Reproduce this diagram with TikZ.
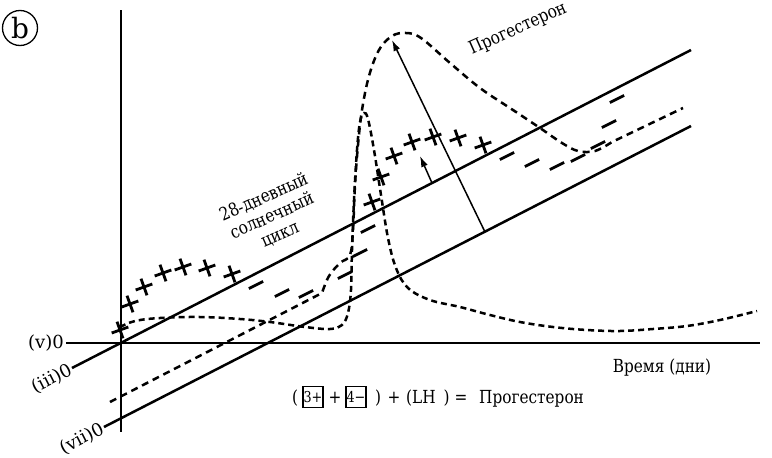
\documentclass[tikz,border=0pt]{standalone}
\usepackage{fontspec}
\setmainfont{DejaVu Serif}[FakeStretch=0.85]
\newfontfamily\axfont{DejaVu Serif}
\usetikzlibrary{arrows.meta,calc}
\begin{document}
\begin{tikzpicture}[x=1pt,y=-1pt,
  axisline/.style={line width=2.5pt},
  dashcurve/.style={line width=2.5pt, dash pattern=on 7pt off 5pt},
  lhcurve/.style={line width=2.5pt, dash pattern=on 6pt off 4pt},
  arrowline/.style={line width=1.5pt, -{Latex[length=11pt,width=7pt]}},
  signmark/.style={line width=2.8pt},
  lbl/.style={font=\fontsize{18}{20}\selectfont, inner sep=0pt},
  axlbl/.style={font=\axfont\fontsize{18}{20}\selectfont, inner sep=0pt},
  eqbox/.style={draw, line width=1.3pt, minimum width=20pt, minimum height=21pt, inner sep=0pt, font=\fontsize{15}{15}\selectfont}]
\useasboundingbox (0,0) rectangle (772,458);
% coordinates
\coordinate (vtop) at (121,10);
\coordinate (vbot) at (121,432);
\coordinate (hl) at (66,343);
\coordinate (hr) at (760,343);
\coordinate (iiiS) at (72,368);
\coordinate (iiiE) at (691,50);
\coordinate (viiS) at (104,427);
\coordinate (viiE) at (691,126);
\coordinate (bigS) at (485,232);
\coordinate (bigT) at (392,40);
\coordinate (smS) at (432,183);
\coordinate (smT) at (420,156);
% axes and lines
\draw[axisline] (vtop) -- (vbot);
\draw[axisline] (hl) -- (hr);
\draw[axisline] (iiiS) -- (iiiE);
\draw[axisline] (viiS) -- (viiE);
% progesterone curve with baseline
\draw[dashcurve] (110,402) -- plot[smooth,tension=0.6] coordinates {(322,293) (329,276) (340,263) (350,255) (353,230) (355,185) (358,145) (362,110) (369,76) (379,50) (392,36) (406,33) (421,38) (450,63) (480,88) (513,110) (540,128) (562,143) (578,151) (595,151) (612,142)} -- (683,108);
% LH curve
\draw[lhcurve] plot[smooth,tension=0.6] coordinates {(120,327) (135,321) (160,318) (200,317) (240,319) (270,322) (305,327) (330,329) (342,325) (348,313) (351,290) (352,250) (354,200) (357,150) (360,122) (364,113) (368,119) (374,150) (381,195) (388,238) (396,268) (408,288) (430,300) (460,307) (490,315) (520,322) (553,327) (587,330) (620,331) (653,329) (687,326) (720,320) (757,311)};
% arrows
\draw[arrowline] (bigS) -- (bigT);
\draw[arrowline] (smS) -- (smT);
% minus marks
\foreach \x/\y in {256/285,282/293,306/294,345/275,360/253,368/229,507/156,532/163,557/166,578/158,598/145,609/124,617/99}
  \draw[signmark] (\x,\y) ++(-7.1,3.6) -- ++(14.2,-7.2);
% plus marks
\foreach \x/\y in {120/330,130/304,144/287,163/273,183/267,207/268,232/274,372/202,381/177,394/156,412/142,433/137,458/138,483/145}
  \draw[signmark] (\x,\y) ++(-8.3,3) -- ++(16.6,-6) (\x,\y) ++(-3,-8.3) -- ++(6,16.6);
% labels
\node[draw, circle, line width=1.3pt, inner sep=0pt, minimum size=35pt, font=\axfont\fontsize{28}{28}\selectfont] (b) at (20,28) {b};
\node[axlbl, anchor=east] (vlab) at (64,343) {(v)0};
\node[axlbl, anchor=east, rotate=27] (iiilab) at (71,369) {(iii)0};
\node[axlbl, anchor=east, rotate=27] (viilab) at (103,428) {(vii)0};
\node[lbl, rotate=24] (prog) at (518,29) {Прогестерон};
\node[lbl, align=center, rotate=24] (cyc) at (272,216) {28-дневный\\солнечный\\цикл};
\node[lbl] (time) at (662,368) {Время (дни)};
% equation
\node[lbl, anchor=base] (lp) at (295,403) {(};
\node[eqbox] (bx1) at (313,397) {3+};
\node[lbl, anchor=base] (pl1) at (335,403) {+};
\node[eqbox] (bx2) at (356,397) {4−};
\node[lbl, anchor=base] (rp) at (378,403) {)};
\node[lbl, anchor=base] (pl2) at (394,403) {+};
\node[lbl, anchor=base west] (lh) at (406,403) {(LH\;\,)};
\node[lbl, anchor=base] (eqs) at (461,403) {=};
\node[lbl, anchor=base west] (pr) at (479,403) {Прогестерон};
\end{tikzpicture}
\end{document}
